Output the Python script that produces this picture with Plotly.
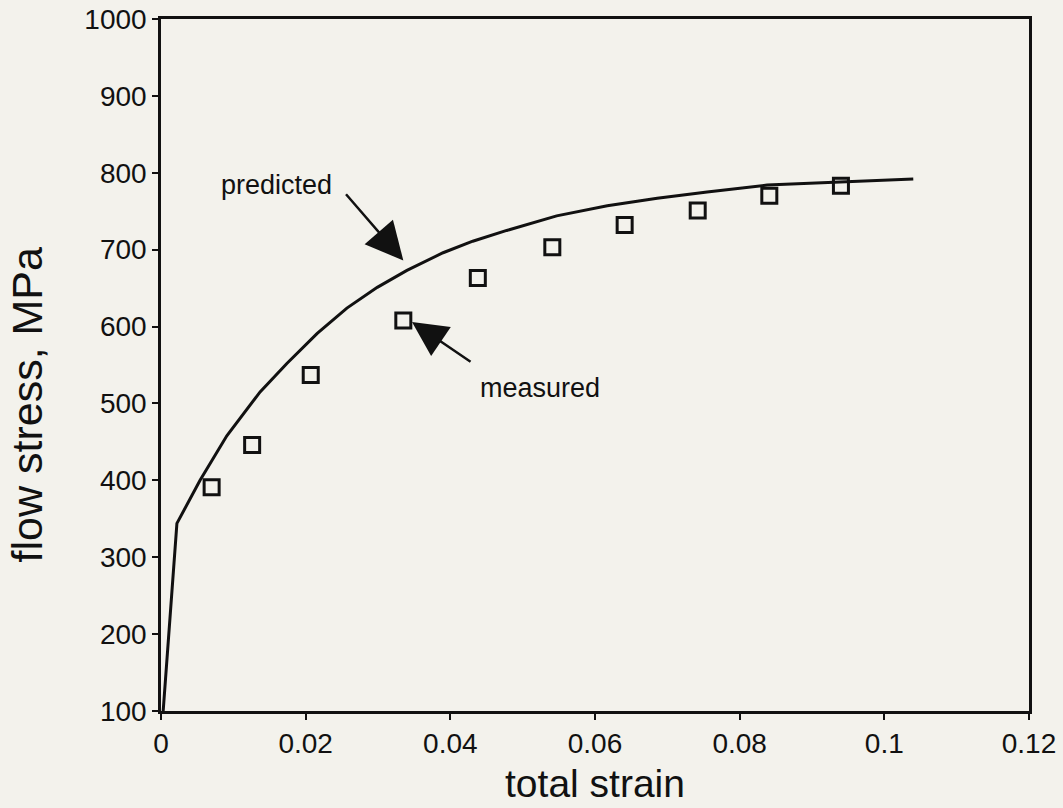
import plotly.graph_objects as go

# predicted curve (total strain, flow stress MPa)
pred_strain = [0.0003, 0.0022, 0.0054, 0.0091, 0.0137, 0.0174, 0.0216, 0.0257,
               0.0299, 0.0340, 0.0390, 0.0431, 0.0478, 0.0547, 0.0617, 0.0686,
               0.0755, 0.0800, 0.0838, 0.0939, 0.1040]
pred_stress = [100, 344, 400, 458, 515, 552, 591, 624,
               651, 673, 696, 711, 725, 744, 757, 767,
               775, 780, 784, 788, 792]

# measured points
meas_strain = [0.0070, 0.0126, 0.0207, 0.0335, 0.0438, 0.0541, 0.0641, 0.0742, 0.0841, 0.0940]
meas_stress = [391, 446, 537, 608, 663, 703, 732, 751, 770, 783]

x_ticks = [0, 0.02, 0.04, 0.06, 0.08, 0.1, 0.12]
x_tick_labels = ["0", "0.02", "0.04", "0.06", "0.08", "0.1", "0.12"]
y_ticks = [100, 200, 300, 400, 500, 600, 700, 800, 900, 1000]

BG = "#f3f2ec"
INK = "#111111"
FONT = "Liberation Sans, Arial, sans-serif"
TICKFONT = "Liberation Sans Narrow, Arial Narrow, Liberation Sans, sans-serif"

fig = go.Figure()
fig.add_trace(go.Scatter(x=pred_strain, y=pred_stress, mode="lines",
                         line=dict(color=INK, width=3), showlegend=False))
fig.add_trace(go.Scatter(x=meas_strain, y=meas_stress, mode="markers",
                         marker=dict(symbol="square-open", size=15, color=INK,
                                     line=dict(color=INK, width=3)),
                         showlegend=False))

axis_common = dict(showgrid=False, zeroline=False, showline=True, mirror=True,
                   linecolor=INK, linewidth=2.5, ticks="outside", ticklen=6,
                   tickwidth=2, tickcolor=INK,
                   tickfont=dict(size=28, family=TICKFONT), automargin=False)

fig.update_layout(
    width=1063, height=808,
    margin=dict(l=161, r=34, t=19, b=97),
    paper_bgcolor=BG, plot_bgcolor=BG,
    font=dict(family=FONT, color=INK, size=24),
    xaxis=dict(range=[0, 0.12], tickvals=x_ticks, ticktext=x_tick_labels,
               title=dict(text="total strain", font=dict(size=39), standoff=12),
               **axis_common),
    yaxis=dict(range=[100, 1000], tickvals=y_ticks, **axis_common),
)

# y axis title placed as in the reference (slightly below centre)
fig.add_annotation(xref="paper", yref="paper", x=-0.154, y=0.442,
                   text="flow stress, MPa", textangle=-90, showarrow=False,
                   xanchor="center", yanchor="middle", font=dict(size=43, color=INK))

# labels
fig.add_annotation(x=0.0160, y=784, text="predicted", showarrow=False,
                   font=dict(size=27, color=INK))
fig.add_annotation(x=0.0524, y=520, text="measured", showarrow=False,
                   font=dict(size=27, color=INK))
# arrows
fig.add_annotation(x=0.0335, y=686, ax=0.0254, ay=774, axref="x", ayref="y",
                   xref="x", yref="y", text="", showarrow=True,
                   arrowhead=2, arrowsize=3, arrowwidth=2.5, arrowcolor=INK)
fig.add_annotation(x=0.0347, y=606, ax=0.0430, ay=553, axref="x", ayref="y",
                   xref="x", yref="y", text="", showarrow=True,
                   arrowhead=2, arrowsize=2.8, arrowwidth=2.5, arrowcolor=INK)

fig.write_html("out.html")
